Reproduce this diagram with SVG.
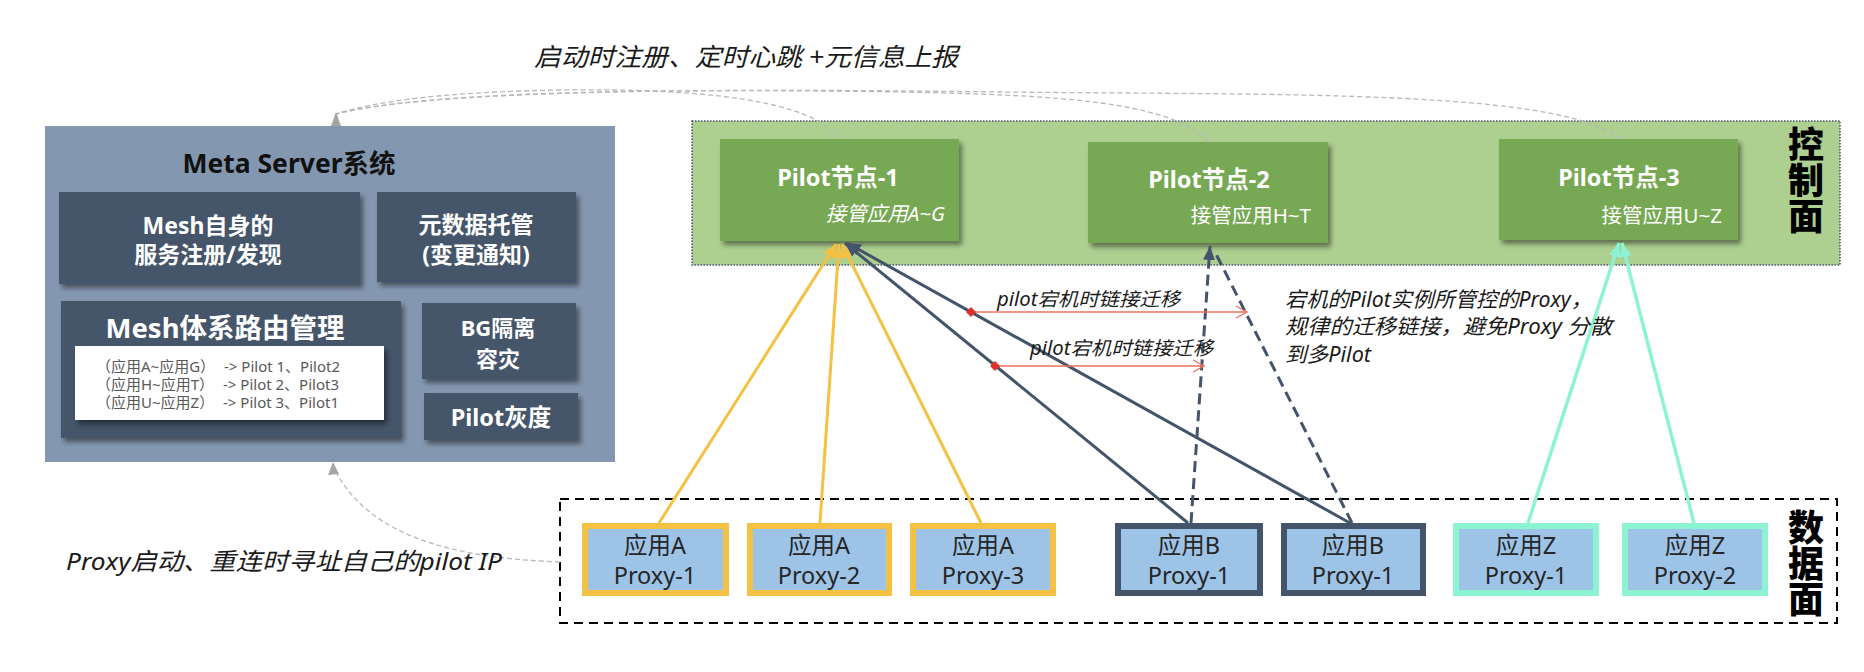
<svg xmlns="http://www.w3.org/2000/svg" width="1864" height="672" viewBox="0 0 1864 672">
<style>
text{font-family:"Noto Sans","Noto Sans CJK SC",sans-serif;}
.cjk{font-family:"Noto Sans CJK SC",sans-serif;}
.wb{fill:#fff;font-weight:bold;text-anchor:middle;}
.dark{fill:#44546A;}
.px{fill:#9DC3E6;stroke-width:6;}
.pt{font-size:23.5px;fill:#262626;text-anchor:middle;}
.it{font-style:italic;fill:#1a1a1a;}
.pilot{fill:#77A853;}
.big{font-size:36px;font-weight:900;fill:#000;writing-mode:vertical-rl;}
.ylw{stroke:#F4C142;stroke-width:3;fill:none;marker-end:url(#aY);}
.nav{stroke:#44546A;stroke-width:3;fill:none;}
.aq{stroke:#8CF3D3;stroke-width:3.5;fill:none;marker-end:url(#aA);}
.red{stroke:#E8705F;stroke-width:1.3;fill:none;marker-start:url(#dR);marker-end:url(#oR);}
.gd{stroke:#B8B8B8;stroke-width:1.3;stroke-dasharray:5 3;fill:none;}
</style>
<defs>
<filter id="sh" x="-10%" y="-10%" width="130%" height="140%">
<feDropShadow dx="3" dy="4" stdDeviation="2.5" flood-color="#000" flood-opacity="0.45"/>
</filter>
<marker id="aY" markerUnits="userSpaceOnUse" markerWidth="14" markerHeight="12" refX="14" refY="6" orient="auto"><path d="M0,0 L14,6 L0,12 z" fill="#F4C142"/></marker>
<marker id="aN" markerUnits="userSpaceOnUse" markerWidth="14" markerHeight="12" refX="14" refY="6" orient="auto"><path d="M0,0 L14,6 L0,12 z" fill="#44546A"/></marker>
<marker id="aA" markerUnits="userSpaceOnUse" markerWidth="14" markerHeight="12" refX="14" refY="6" orient="auto"><path d="M0,0 L14,6 L0,12 z" fill="#8CF3D3"/></marker>
<marker id="dR" markerUnits="userSpaceOnUse" markerWidth="10" markerHeight="10" refX="5" refY="5" orient="auto"><path d="M0,5 L5,0 L10,5 L5,10 z" fill="#E0302A"/></marker>
<marker id="oR" markerUnits="userSpaceOnUse" markerWidth="13" markerHeight="14" refX="12" refY="7" orient="auto"><path d="M1,1 L12,7 L1,13" fill="none" stroke="#E8705F" stroke-width="1.3"/></marker>
</defs>
<rect width="1864" height="672" fill="#fff"/>

<g id="meta-server">
<rect x="45" y="126" width="570" height="336" fill="#8497B0"/>
<text x="289" y="173" font-size="26.5" font-weight="bold" fill="#111" text-anchor="middle">Meta Server系统</text>
<g id="meta-reg">
<rect x="59" y="192" width="301" height="92" class="dark" filter="url(#sh)"/>
<text x="208" y="234" font-size="23" class="wb">Mesh自身的</text>
<text x="208" y="263" font-size="23" class="wb">服务注册/发现</text>
</g>
<g id="meta-data">
<rect x="377" y="192" width="199" height="90" class="dark" filter="url(#sh)"/>
<text x="476" y="233" font-size="23" class="wb">元数据托管</text>
<text x="476" y="263" font-size="23" class="wb">(变更通知)</text>
</g>
<g id="meta-route">
<rect x="61" y="301" width="340" height="137" class="dark" filter="url(#sh)"/>
<text x="225" y="338" font-size="27.5" class="wb">Mesh体系路由管理</text>
<rect x="75" y="346" width="309" height="74" fill="#fff" filter="url(#sh)"/>
<g font-size="15" fill="#595959">
<text x="96" y="372">（应用A~应用G）</text><text x="224" y="372">-&gt; Pilot 1、Pilot2</text>
<text x="96" y="390">（应用H~应用T）</text><text x="223" y="390">-&gt; Pilot 2、Pilot3</text>
<text x="96" y="408">（应用U~应用Z）</text><text x="223" y="408">-&gt; Pilot 3、Pilot1</text>
</g>
</g>
<g id="meta-bg">
<rect x="422" y="303" width="154" height="76" class="dark" filter="url(#sh)"/>
<text x="498" y="336" font-size="22" class="wb">BG隔离</text>
<text x="498" y="367" font-size="22" class="wb">容灾</text>
</g>
<g id="meta-gray">
<rect x="424" y="393" width="154" height="47" class="dark" filter="url(#sh)"/>
<text x="501" y="426" font-size="23.5" class="wb">Pilot灰度</text>
</g>
</g>

<g id="control-plane">
<rect x="692" y="121" width="1148" height="144" fill="#ADCF90" stroke="#44546A" stroke-width="1.5" stroke-dasharray="1.5 1.5"/>
<text class="big cjk" x="1806" y="126">控制面</text>
</g>
<g id="pilot-1">
<rect x="720" y="139" width="239" height="102" class="pilot" filter="url(#sh)"/>
<text x="838" y="186" font-size="23.5" class="wb">Pilot节点-1</text>
<text x="945" y="221" font-size="20.5" fill="#fff" font-style="italic" text-anchor="end">接管应用A~G</text>
</g>
<g id="pilot-2">
<rect x="1088" y="142" width="240" height="101" class="pilot" filter="url(#sh)"/>
<text x="1209" y="188" font-size="23.5" class="wb">Pilot节点-2</text>
<text x="1311" y="223" font-size="20.5" fill="#fff" text-anchor="end">接管应用H~T</text>
</g>
<g id="pilot-3">
<rect x="1499" y="139" width="239" height="101" class="pilot" filter="url(#sh)"/>
<text x="1619" y="186" font-size="23.5" class="wb">Pilot节点-3</text>
<text x="1722" y="223" font-size="20.5" fill="#fff" text-anchor="end">接管应用U~Z</text>
</g>

<g id="data-plane">
<rect x="560" y="499" width="1277" height="124" fill="none" stroke="#000" stroke-width="2" stroke-dasharray="9 6"/>
<text class="big cjk" x="1806" y="509">数据面</text>
</g>
<g id="proxy-a1"><rect x="585" y="526" width="141" height="67" class="px" stroke="#F4C142"/><text class="pt" x="655" y="554">应用A</text><text class="pt" x="655" y="584">Proxy-1</text></g>
<g id="proxy-a2"><rect x="750" y="526" width="139" height="67" class="px" stroke="#F4C142"/><text class="pt" x="819" y="554">应用A</text><text class="pt" x="819" y="584">Proxy-2</text></g>
<g id="proxy-a3"><rect x="913" y="526" width="140" height="67" class="px" stroke="#F4C142"/><text class="pt" x="983" y="554">应用A</text><text class="pt" x="983" y="584">Proxy-3</text></g>
<g id="proxy-b1"><rect x="1118" y="526" width="142" height="67" class="px" stroke="#44546A"/><text class="pt" x="1189" y="554">应用B</text><text class="pt" x="1189" y="584">Proxy-1</text></g>
<g id="proxy-b2"><rect x="1284" y="526" width="139" height="67" class="px" stroke="#44546A"/><text class="pt" x="1353" y="554">应用B</text><text class="pt" x="1353" y="584">Proxy-1</text></g>
<g id="proxy-z1"><rect x="1456" y="526" width="140" height="67" class="px" stroke="#8CF3D3"/><text class="pt" x="1526" y="554">应用Z</text><text class="pt" x="1526" y="584">Proxy-1</text></g>
<g id="proxy-z2"><rect x="1625" y="526" width="140" height="67" class="px" stroke="#8CF3D3"/><text class="pt" x="1695" y="554">应用Z</text><text class="pt" x="1695" y="584">Proxy-2</text></g>

<g id="connectors">
<path class="gd" d="M838,139 C815,100 700,88 560,90 C450,92 380,100 336,114"/>
<path class="gd" d="M1209,142 C1170,100 1050,95 900,92 C650,88 420,92 336,114"/>
<path class="gd" d="M1620,139 C1560,90 1300,95 1000,92 C700,88 430,90 336,114"/>
<polygon points="336,112 331,126 341,126" fill="#A6A6A6"/>
<path class="gd" d="M560,562 C450,558 370,535 336,472"/>
<polygon points="333,462 328,475 339,474" fill="#A6A6A6"/>
<line class="ylw" x1="659" y1="523" x2="836" y2="244"/>
<line class="ylw" x1="820" y1="523" x2="839" y2="244"/>
<line class="ylw" x1="981" y1="523" x2="842" y2="244"/>
<line class="nav" x1="1188" y1="523" x2="845" y2="243" marker-end="url(#aN)"/>
<line class="nav" x1="1350" y1="523" x2="847" y2="243" marker-end="url(#aN)"/>
<line class="nav" stroke-dasharray="11 6" x1="1191" y1="523" x2="1210" y2="246" marker-end="url(#aN)"/>
<line class="nav" stroke-dasharray="11 6" x1="1352" y1="523" x2="1215" y2="252"/>
<line class="aq" x1="1528" y1="523" x2="1619" y2="243"/>
<line class="aq" x1="1694" y1="523" x2="1622" y2="243"/>
<line class="red" x1="971" y1="312" x2="1247" y2="312"/>
<line class="red" x1="995" y1="366" x2="1204" y2="366"/>
</g>

<g id="labels">
<text class="it" x="534" y="66" font-size="25" textLength="424" lengthAdjust="spacingAndGlyphs">启动时注册、定时心跳 +元信息上报</text>
<text class="it" x="66" y="570" font-size="24" textLength="436" lengthAdjust="spacingAndGlyphs">Proxy启动、重连时寻址自己的pilot IP</text>
<text class="it" x="997" y="306" font-size="19" textLength="183" lengthAdjust="spacingAndGlyphs">pilot宕机时链接迁移</text>
<text class="it" x="1030" y="355" font-size="19" textLength="183" lengthAdjust="spacingAndGlyphs">pilot宕机时链接迁移</text>
<text class="it" x="1285" y="307" font-size="21" textLength="307" lengthAdjust="spacingAndGlyphs">宕机的Pilot实例所管控的Proxy，</text>
<text class="it" x="1285" y="334" font-size="21" textLength="327" lengthAdjust="spacingAndGlyphs">规律的迁移链接，避免Proxy 分散</text>
<text class="it" x="1285" y="362" font-size="21" textLength="86" lengthAdjust="spacingAndGlyphs">到多Pilot</text>
</g>
</svg>
